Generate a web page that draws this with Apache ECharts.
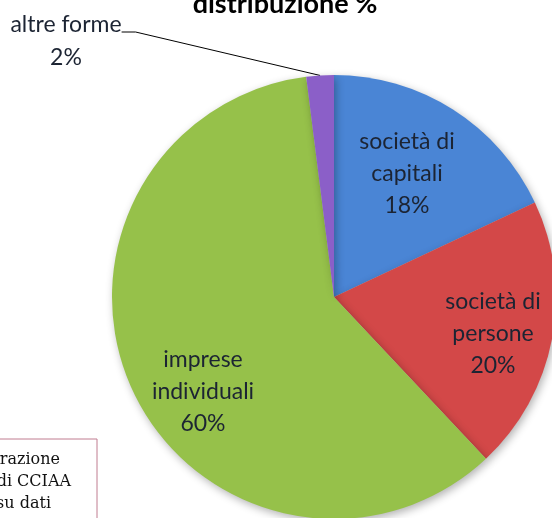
<!DOCTYPE html>
<html>
<head>
<meta charset="utf-8">
<script src="https://cdn.jsdelivr.net/npm/echarts@6/dist/echarts.min.js"></script>
<style>
html,body{margin:0;padding:0;background:#fff;}
#c{width:552px;height:518px;}
</style>
</head>
<body>
<div id="c"></div>
<script>
// Data
const categories = ['società di\ncapitali', 'società di\npersone', 'imprese\nindividuali', 'altre forme'];
const values = [18, 20, 60, 2];
const colors = ['#4a85d5', '#d34848', '#96c14a', '#8b5fc8'];
const titleText = 'distribuzione %';
const sourceLines = ['Elaborazione', 'Ufficio Studi CCIAA', 'su dati'];

// Label anchor positions (layout only)
const labelPos = [[407, 174], [493, 334], [203, 392], [66, 32]];

const chart = echarts.init(document.getElementById('c'));
const font = 'Lato, "Open Sans", sans-serif';
const serif = '16px "DejaVu Serif", serif';

chart.setOption({
  animation: false,
  backgroundColor: '#ffffff',
  graphic: [
    {
      type: 'text', x: 285, y: -9,
      style: { text: titleText, font: 'bold 27px ' + font, fill: '#000', align: 'center', verticalAlign: 'top' }
    },
    {
      type: 'rect', shape: { x: -20, y: 439, width: 117, height: 100 },
      style: { fill: '#fff', stroke: '#c07d90', lineWidth: 1 }
    },
    {
      type: 'text', x: 60, y: 460,
      style: { text: sourceLines[0], font: serif, fill: '#111', align: 'right', verticalAlign: 'middle' }
    },
    {
      type: 'text', x: 71, y: 482,
      style: { text: sourceLines[1], font: serif, fill: '#111', align: 'right', verticalAlign: 'middle' }
    },
    {
      type: 'text', x: 51, y: 504,
      style: { text: sourceLines[2], font: serif, fill: '#111', align: 'right', verticalAlign: 'middle' }
    }
  ],
  series: [{
    type: 'pie',
    center: [334, 297],
    radius: 222,
    startAngle: 90,
    clockwise: true,
    avoidLabelOverlap: false,
    itemStyle: {
      shadowBlur: 8, shadowColor: 'rgba(0,0,0,0.3)', shadowOffsetX: 2, shadowOffsetY: 3
    },
    label: {
      show: true,
      position: 'inside',
      formatter: p => p.name + '\n' + p.value + '%',
      fontFamily: font,
      fontSize: 23,
      lineHeight: 32,
      color: '#1c2433',
      align: 'center'
    },
    labelLine: { show: false },
    labelLayout: p => ({ x: labelPos[p.dataIndex][0], y: labelPos[p.dataIndex][1], align: 'center', verticalAlign: 'middle' }),
    data: categories.map((c, i) => {
      const d = { name: c, value: values[i], itemStyle: { color: colors[i] } };
      if (i === 3) {
        d.label = {
          position: 'outside',
          formatter: p => '{e| }\n{a|' + p.name + '}\n{a|' + p.value + '%}',
          rich: {
            e: { fontSize: 2, lineHeight: 19 },
            a: { fontFamily: font, fontSize: 23, lineHeight: 33, color: '#1c2433', align: 'center' }
          }
        };
        d.labelLine = { show: true, length: 10, length2: 14, lineStyle: { color: '#000', width: 1 } };
      }
      return d;
    })
  }]
});
</script>
</body>
</html>
